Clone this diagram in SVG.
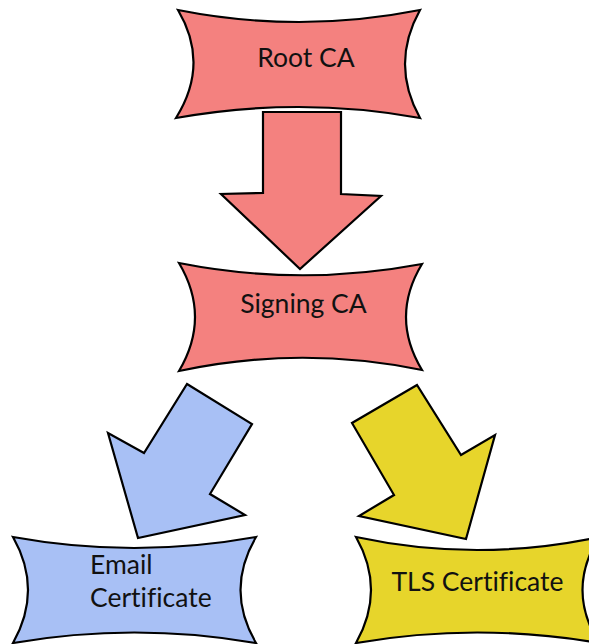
<svg xmlns="http://www.w3.org/2000/svg" width="589" height="644" viewBox="0 0 589 644">
<style>
.s{stroke:#000;stroke-width:2.2;stroke-linejoin:miter}
.red{fill:#F4817F}
.blue{fill:#A8C0F5}
.yel{fill:#E7D52B}
.t{font-family:Lato,"Open Sans",sans-serif;font-size:26.5px;fill:#111;font-variant-ligatures:none}
</style>
<rect width="589" height="644" fill="#fff"/>
<g id="connectors">
<polygon class="s red" points="263,112 341,112 341,194 381,196 300,269 221,194 263,193"/>
<polygon class="s blue" points="187,384 252,424 210,494 245,515 138,538 108,433 144,453"/>
<polygon class="s yel" points="417,385 352,423 394,495 359,516 466,539 495,435 461,455"/>
</g>
<g id="root-ca">
<path class="s red" d="M178,10 Q299,34 420,10 Q390,64 420,118 Q299,96 176,118 Q210,64 178,10 Z"/>
<text class="t" x="306" y="67" text-anchor="middle">Root CA</text>
</g>
<g id="signing-ca">
<path class="s red" d="M179,263 Q300,287 422,264 Q390,317 422,370 Q300,345 179,371 Q211,317 179,263 Z"/>
<text class="t" x="303.5" y="313" text-anchor="middle">Signing CA</text>
</g>
<g id="email-cert">
<path class="s blue" d="M13,537 Q134,559 256,537 Q225,590 256,643 Q134,622 13,643 Q43,590 13,537 Z"/>
<text class="t" x="90" y="574">Email</text>
<text class="t" x="90" y="607">Certificate</text>
</g>
<g id="tls-cert">
<path class="s yel" d="M356,537 Q477,563 599,537 Q566,590 599,643 Q477,622 356,643 Q386,590 356,537 Z"/>
<text class="t" x="477.5" y="591" text-anchor="middle">TLS Certificate</text>
</g>
</svg>
